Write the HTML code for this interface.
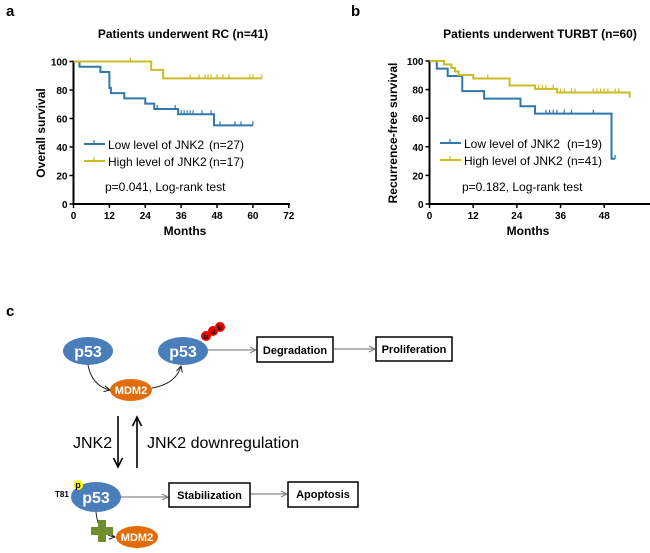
<!DOCTYPE html>
<html><head><meta charset="utf-8"><style>
html,body{margin:0;padding:0;background:#fff;width:650px;height:553px;overflow:hidden}
svg{display:block;font-family:"Liberation Sans",Arial,sans-serif}
</style></head><body>
<svg id="fig" width="650" height="553" viewBox="0 0 650 553" xmlns="http://www.w3.org/2000/svg">
<defs>
<marker id="ag" markerWidth="8" markerHeight="8" refX="7" refY="4" orient="auto" markerUnits="userSpaceOnUse"><path d="M1,1 L7,4 L1,7" fill="none" stroke="#777" stroke-width="1"/></marker>
<marker id="ak" markerWidth="8" markerHeight="8" refX="7" refY="4" orient="auto" markerUnits="userSpaceOnUse"><path d="M1,1 L7,4 L1,7" fill="none" stroke="#222" stroke-width="1"/></marker>
<marker id="abig" markerWidth="12" markerHeight="12" refX="10" refY="6" orient="auto" markerUnits="userSpaceOnUse"><path d="M1,1.5 L10,6 L1,10.5" fill="none" stroke="#000" stroke-width="1.6"/></marker>
</defs>
<text x="6" y="16" font-size="15" font-weight="bold">a</text>
<text x="351" y="16" font-size="15" font-weight="bold">b</text>
<text x="6" y="316" font-size="15" font-weight="bold">c</text>
<g id="chartA"></g>
<g id="chartB"></g>

<g font-weight="bold">
<ellipse cx="88" cy="351" rx="25" ry="14" fill="#4a7ebb"/>
<text x="88" y="357" text-anchor="middle" font-size="16" fill="#fff">p53</text>
<ellipse cx="183" cy="351" rx="25" ry="14" fill="#4a7ebb"/>
<text x="183" y="357" text-anchor="middle" font-size="16" fill="#fff">p53</text>
<g font-size="8" fill="#000">
<circle cx="206" cy="336" r="5" fill="#e00"/><text x="206" y="339" text-anchor="middle">u</text>
<circle cx="213" cy="331" r="5" fill="#e00"/><text x="213" y="334" text-anchor="middle">u</text>
<circle cx="220" cy="327" r="5" fill="#e00"/><text x="220" y="330" text-anchor="middle">u</text>
</g>
<ellipse cx="131" cy="390" rx="21" ry="11" fill="#e36c0a"/>
<text x="131" y="394" text-anchor="middle" font-size="11" fill="#fff">MDM2</text>
<path d="M88,365 Q92,386 110,390" fill="none" stroke="#222" stroke-width="1" marker-end="url(#ak)"/>
<path d="M152,388 Q176,384 181,366" fill="none" stroke="#222" stroke-width="1" marker-end="url(#ak)"/>
<line x1="208" y1="350" x2="256" y2="350" stroke="#888" stroke-width="1.2" marker-end="url(#ag)"/>
<rect x="257" y="337" width="76" height="25" fill="#fff" stroke="#000" stroke-width="1.5"/>
<text x="295" y="354" text-anchor="middle" font-size="11">Degradation</text>
<line x1="334" y1="349" x2="375" y2="349" stroke="#888" stroke-width="1.2" marker-end="url(#ag)"/>
<rect x="376" y="337" width="76" height="24" fill="#fff" stroke="#000" stroke-width="1.5"/>
<text x="414" y="353" text-anchor="middle" font-size="11">Proliferation</text>
<line x1="118" y1="416" x2="118" y2="467" stroke="#000" stroke-width="1.6" marker-end="url(#abig)"/>
<line x1="137" y1="468" x2="137" y2="417" stroke="#000" stroke-width="1.6" marker-end="url(#abig)"/>
<text x="73" y="448" font-size="16" font-weight="normal">JNK2</text>
<text x="147" y="448" font-size="16" font-weight="normal">JNK2 downregulation</text>
<ellipse cx="96" cy="497" rx="25" ry="15" fill="#4a7ebb"/>
<text x="96" y="503" text-anchor="middle" font-size="16" fill="#fff">p53</text>
<circle cx="78" cy="485" r="5" fill="#ff0"/>
<text x="78" y="488" text-anchor="middle" font-size="9">p</text>
<text x="55" y="497" font-size="8">T81</text>
<line x1="121" y1="497" x2="168" y2="497" stroke="#888" stroke-width="1.2" marker-end="url(#ag)"/>
<rect x="169" y="483" width="81" height="24" fill="#fff" stroke="#000" stroke-width="1.5"/>
<text x="209.5" y="499" text-anchor="middle" font-size="11">Stabilization</text>
<line x1="251" y1="494" x2="287" y2="494" stroke="#888" stroke-width="1.2" marker-end="url(#ag)"/>
<rect x="288" y="482" width="70" height="25" fill="#fff" stroke="#000" stroke-width="1.5"/>
<text x="323" y="498" text-anchor="middle" font-size="11">Apoptosis</text>
<path d="M96,512 Q98,535 115,537" fill="none" stroke="#222" stroke-width="1" marker-end="url(#ak)"/>
<ellipse cx="137" cy="537" rx="21" ry="11" fill="#e36c0a"/>
<text x="137" y="541" text-anchor="middle" font-size="11" fill="#fff">MDM2</text>
<g fill="#6f8f2f">
<rect x="98" y="520" width="8" height="22"/><rect x="91" y="527" width="22" height="8"/>
</g>
</g>
</svg>
<script>
// Chart A data
const aLowTimes=[0,2,9,12,12.5,17,24,27,35,47,60];
const aLowSurv=[100,96.3,92.6,81.5,77.8,74.1,70.4,66.7,63,55.2,55.2];
const aLowCens=[28,34,36,37,38,39,40,43,46,49,54,56,60];
const aHighTimes=[0,26,30,63];
const aHighSurv=[100,94.1,88.2,88.2];
const aHighCens=[19,39,42,44,45,46,48,50,52,59,60,63];
const aXTicks=[0,12,24,36,48,60,72];
const yTicks=[0,20,40,60,80,100];
// Chart B data
const bLowTimes=[0,2,5,9,15,25,29,50,51];
const bLowSurv=[100,94.7,89.5,78.9,73.7,68.4,63.2,31.6,31.6];
const bLowCens=[9,32,33,34,35,37,39,45,51];
const bHighTimes=[0,4,6,7,8,12,22,29,35,55];
const bHighSurv=[100,97.6,95.1,92.7,90.2,87.8,82.9,80.5,78,74.4];
const bHighCens=[16,30,31,32,34,36,37,39,40,45,46,47,48,49,51,52];
const bXTicks=[0,12,24,36,48];

const NS="http://www.w3.org/2000/svg";
function mk(p,tag,attrs){const e=document.createElementNS(NS,tag);for(const k in attrs)e.setAttribute(k,attrs[k]);p.appendChild(e);return e;}
const BLUE="#2e78ad",YEL="#cbbb25";
function stepPath(xs,ys,X,Y){let d="M"+X(xs[0])+","+Y(ys[0]);for(let i=1;i<xs.length;i++){d+=" H"+X(xs[i])+" V"+Y(ys[i]);}return d;}
function survAt(xs,ys,t){let v=ys[0];for(let i=0;i<xs.length;i++){if(xs[i]<=t)v=ys[i];}return v;}
function drawChart(g,o){
  const X=t=>o.x0+t*o.sx, Y=v=>o.y0-(v/100)*(o.y0-o.y100);
  const t=mk(g,"text",{x:o.tx,y:38,"text-anchor":"middle","font-size":"12","font-weight":"bold"});t.textContent=o.title;
  
  
  const ax=mk(g,"path",{d:"M"+o.x0+","+(o.y100-1)+" V"+o.y0+" H"+o.xEnd,fill:"none",stroke:"#000","stroke-width":"2"});
  
  
  yTicks.forEach(v=>{mk(g,"line",{x1:o.x0-4,x2:o.x0,y1:Y(v),y2:Y(v),stroke:"#000","stroke-width":"1.5"});
    const l=mk(g,"text",{x:o.x0-6,y:Y(v)+4,"text-anchor":"end","font-size":"10","font-weight":"bold"});l.textContent=v;
    
    });
  o.xt.forEach(v=>{mk(g,"line",{x1:X(v),x2:X(v),y1:o.y0,y2:o.y0+4,stroke:"#000","stroke-width":"1.5"});
    const l=mk(g,"text",{x:X(v),y:o.y0+15,"text-anchor":"middle","font-size":"10","font-weight":"bold"});l.textContent=v;
    
    });
  const xl=mk(g,"text",{x:o.mx,y:235,"text-anchor":"middle","font-size":"12","font-weight":"bold"});xl.textContent="Months";
  
  
  const yl=mk(g,"text",{x:0,y:0,"text-anchor":"middle","font-size":"12","font-weight":"bold",transform:"translate("+o.yx+",133) rotate(-90)"});yl.textContent=o.ytitle;
  
  
  o.series.forEach(s=>{
    const p=mk(g,"path",{d:stepPath(s.t,s.v,X,Y),fill:"none",stroke:s.c,"stroke-width":"2"});
    
    
    s.cens.forEach(c=>{const yy=Y(survAt(s.t,s.v,c));const m=mk(g,"line",{x1:X(c),x2:X(c),y1:yy-4,y2:yy,stroke:s.c,"stroke-width":"1.2"});
      
      });
  });
  o.series.forEach((s,i)=>{const ly=o.ly+i*17;
    const le=mk(g,"g",{});
    
    
    mk(le,"line",{x1:o.lx,x2:o.lx+21,y1:ly,y2:ly,stroke:s.c,"stroke-width":"2"});
    mk(le,"line",{x1:o.lx+10,x2:o.lx+10,y1:ly-4,y2:ly,stroke:s.c,"stroke-width":"1.2"});
    const tx=mk(le,"text",{x:o.lx+24,y:ly+5,"font-size":"12"});tx.textContent=s.label;
    const tn=mk(le,"text",{x:o.nx,y:ly+5,"font-size":"12"});tn.textContent=s.n;});
  const pv=mk(g,"text",{x:o.px,y:191,"font-size":"12"});pv.textContent=o.ptext;
  
  
}
drawChart(document.getElementById("chartA"),{x0:73.5,sx:2.99,y0:204,y100:61.5,xEnd:290,xt:aXTicks,tx:183,mx:185,yx:45,
  title:"Patients underwent RC (n=41)",ytitle:"Overall survival",lx:84,ly:144,nx:209,px:105,ptext:"p=0.041, Log-rank test",
  series:[{name:"low-jnk2-curve",t:aLowTimes,v:aLowSurv,cens:aLowCens,c:BLUE,label:"Low level of JNK2",n:"(n=27)"},
          {name:"high-jnk2-curve",t:aHighTimes,v:aHighSurv,cens:aHighCens,c:YEL,label:"High level of JNK2",n:"(n=17)"}]});
drawChart(document.getElementById("chartB"),{x0:429.5,sx:3.64,y0:204,y100:61,xEnd:650,xt:bXTicks,tx:540,mx:528,yx:397,
  title:"Patients underwent TURBT (n=60)",ytitle:"Recurrence-free survival",lx:440,ly:143,nx:567,px:462,ptext:"p=0.182, Log-rank test",
  series:[{name:"low-jnk2-curve",t:bLowTimes,v:bLowSurv,cens:bLowCens,c:BLUE,label:"Low level of JNK2",n:"(n=19)"},
          {name:"high-jnk2-curve",t:bHighTimes,v:bHighSurv,cens:bHighCens,c:YEL,label:"High level of JNK2",n:"(n=41)"}]});
</script>
</body></html>
